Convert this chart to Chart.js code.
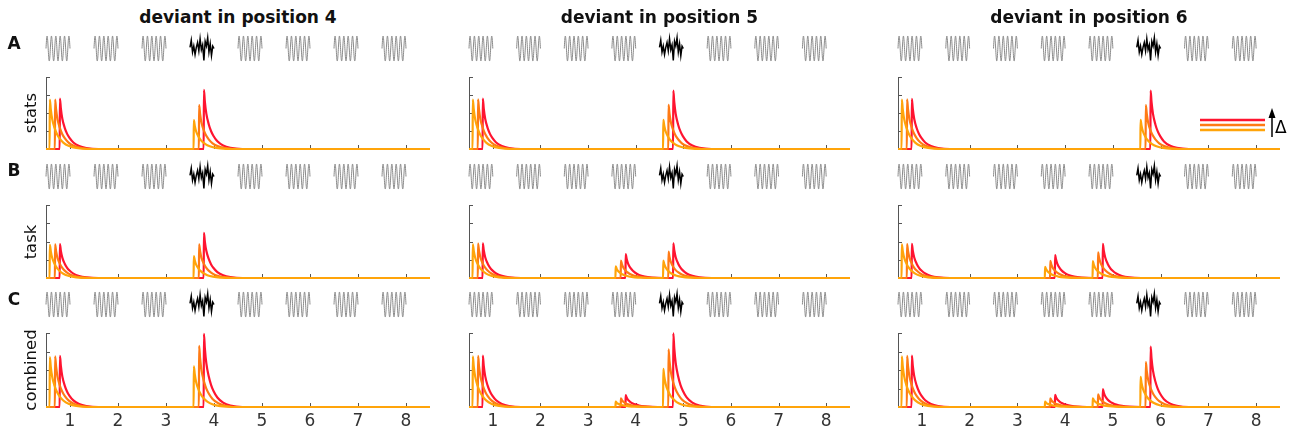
<!DOCTYPE html>
<html>
<head>
<meta charset="utf-8">
<script src="https://cdn.jsdelivr.net/npm/chart.js@4.4.0/dist/chart.umd.min.js"></script>
<style>
  body { margin: 0; background: #fff; font-family: "DejaVu Sans", sans-serif; }
  #fig { position: relative; width: 1297px; height: 433px; overflow: hidden; }
  #fig canvas { position: absolute; }
  .lbl { position: absolute; white-space: nowrap; color: #111; transform: translate(-50%, -50%); }
  .ttl { font-weight: bold; font-size: 17px; }
  .let { font-weight: bold; font-size: 17px; }
  .ylab { font-size: 16.5px; transform: translate(-50%, -50%) rotate(-90deg); }
</style>
</head>
<body>
<div id="fig"></div>
<script>
// tones in the sequence (x ticks) and y ticks
var tones = [1, 2, 3, 4, 5, 6, 7, 8];
var yTicks = [0, 1, 2, 3, 4];
var deviantPos = [4, 5, 6];
var colTitles = ['deviant in position 4', 'deviant in position 5', 'deviant in position 6'];
var rowNames = ['stats', 'task', 'combined'];
var rowLetters = ['A', 'B', 'C'];

// peak latency after tone onset for small / medium / large delta
var latency = [0.08, 0.19, 0.29];
var deltaColors = ['#ffa40a', '#ff7a14', '#ff1430'];

// shape of a response after its peak: time after peak, fraction of peak
var decayT = [0, 0.02, 0.05, 0.1, 0.15, 0.2, 0.28, 0.4, 0.55, 0.8];
var decayF = [1, 0.8, 0.6, 0.42, 0.3, 0.22, 0.13, 0.06, 0.02, 0];

// response peaks: [tone, small delta, medium delta, large delta]
var stats4 = [[1, 2.75, 2.75, 2.8], [4, 1.6, 2.44, 3.28]];
var stats5 = [[1, 2.75, 2.76, 2.8], [5, 1.62, 2.45, 3.25]];
var stats6 = [[1, 2.75, 2.76, 2.78], [6, 1.62, 2.44, 3.25]];
var task4 = [[1, 1.82, 1.84, 1.86], [4, 1.2, 1.84, 2.48]];
var task5 = [[1, 1.85, 1.88, 1.9], [4, 0.64, 0.96, 1.31], [5, 0.95, 1.44, 1.9]];
var task6 = [[1, 1.84, 1.86, 1.87], [4, 0.61, 0.94, 1.26], [5, 0.92, 1.4, 1.87]];
var comb4 = [[1, 2.7, 2.74, 2.76], [4, 2.2, 3.3, 3.95]];
var comb5 = [[1, 2.74, 2.76, 2.78], [4, 0.29, 0.47, 0.64], [5, 2.06, 3.12, 3.98]];
var comb6 = [[1, 2.74, 2.76, 2.78], [4, 0.29, 0.47, 0.66], [5, 0.47, 0.69, 0.97], [6, 1.63, 2.43, 3.27]];
var panels = [[stats4, stats5, stats6], [task4, task5, task6], [comb4, comb5, comb6]];

// jagged deviant tone glyph
var devWave = [0.1, 0.7, -0.3, 0.2, -0.5, 0.1, 0.5, -0.2, 0.8, -0.1, 0.3, -1, 0.6,
  0.2, 0.9, -0.3, 0.4, -0.6, 0.2, 0];

// layout of plot areas (px)
var plotX = [[46, 430], [469, 850], [898, 1280]];
var plotY = [[77, 149], [205, 278], [333, 407]];

Chart.defaults.font.family = '"DejaVu Sans", sans-serif';

function trace(peaks, k) {
  var pts = [{x: 0.5, y: 0}];
  peaks.forEach(function (p) {
    var x0 = p[0] - 0.5 + latency[k];
    pts.push({x: x0 - 0.005, y: 0});
    decayT.forEach(function (t, i) {
      pts.push({x: x0 + t, y: p[k + 1] * decayF[i]});
    });
  });
  pts.push({x: 8.5, y: 0});
  return pts;
}

var stimuli = {
  id: 'stimuli',
  afterDraw: function (chart, args, opts) {
    var ctx = chart.ctx, xs = chart.scales.x;
    var mid = chart.chartArea.top - 28.5, amp = 12.5;
    tones.forEach(function (n) {
      var x0 = xs.getPixelForValue(n - 0.5), x1 = xs.getPixelForValue(n);
      ctx.save();
      ctx.beginPath();
      if (n === opts.deviant) {
        devWave.forEach(function (v, i) {
          var x = x0 + (x1 - x0) * i / (devWave.length - 1);
          if (i === 0) ctx.moveTo(x, mid - v * 12); else ctx.lineTo(x, mid - v * 12);
        });
        ctx.strokeStyle = '#000';
        ctx.lineWidth = 1.5;
      } else {
        for (var i = 0; i <= 200; i++) {
          var x = x0 + (x1 - x0) * i / 200;
          var y = mid - amp * Math.sin(2 * Math.PI * 5.5 * i / 200);
          if (i === 0) ctx.moveTo(x, y); else ctx.lineTo(x, y);
        }
        ctx.strokeStyle = '#8a8a8a';
        ctx.lineWidth = 1;
      }
      ctx.stroke();
      ctx.restore();
    });
  }
};

var inTicks = {
  id: 'inTicks',
  beforeDatasetsDraw: function (chart) {
    var ctx = chart.ctx, a = chart.chartArea, xs = chart.scales.x, ys = chart.scales.y;
    ctx.save();
    ctx.strokeStyle = '#555';
    ctx.lineWidth = 1;
    ctx.beginPath();
    ys.ticks.forEach(function (t) {
      var y = Math.round(ys.getPixelForValue(t.value)) + 0.5;
      ctx.moveTo(a.left, y); ctx.lineTo(a.left + 4, y);
    });
    xs.ticks.forEach(function (t) {
      var x = Math.round(xs.getPixelForValue(t.value)) + 0.5;
      ctx.moveTo(x, a.bottom); ctx.lineTo(x, a.bottom - 4);
    });
    ctx.stroke();
    ctx.restore();
  }
};

var deltaKey = {
  id: 'deltaKey',
  afterDraw: function (chart, args, opts) {
    if (!opts.show) return;
    var ctx = chart.ctx, a = chart.chartArea;
    ctx.save();
    ctx.lineWidth = 2.5;
    [2, 1, 0].forEach(function (k, i) {
      var y = a.bottom - 29 + i * 5;
      ctx.strokeStyle = deltaColors[k];
      ctx.beginPath(); ctx.moveTo(a.right - 80, y); ctx.lineTo(a.right - 15, y); ctx.stroke();
    });
    var ax = a.right - 8;
    ctx.strokeStyle = '#000'; ctx.fillStyle = '#000'; ctx.lineWidth = 1.5;
    ctx.beginPath(); ctx.moveTo(ax, a.bottom - 12); ctx.lineTo(ax, a.bottom - 34); ctx.stroke();
    ctx.beginPath(); ctx.moveTo(ax, a.bottom - 41); ctx.lineTo(ax - 3.5, a.bottom - 31); ctx.lineTo(ax + 3.5, a.bottom - 31); ctx.closePath(); ctx.fill();
    ctx.font = '17px "DejaVu Sans"';
    ctx.textBaseline = 'middle';
    ctx.fillText('\u0394', ax + 3, a.bottom - 20);
    ctx.restore();
  }
};

var fig = document.getElementById('fig');

function addLabel(text, cls, x, y) {
  var d = document.createElement('div');
  d.className = 'lbl ' + cls;
  d.textContent = text;
  d.style.left = x + 'px';
  d.style.top = y + 'px';
  fig.appendChild(d);
}

rowNames.forEach(function (name, r) {
  for (var c = 0; c < 3; c++) {
    var L = plotX[c][0], R = plotX[c][1], T = plotY[r][0], B = plotY[r][1];
    var padL = 45, padT = 50, padR = 17, padB = r === 2 ? 28 : 6;
    var w = R - L + padL + padR, h = B - T + padT + padB;
    var cv = document.createElement('canvas');
    cv.width = w; cv.height = h;
    cv.style.width = w + 'px'; cv.style.height = h + 'px';
    cv.style.left = (L - padL) + 'px'; cv.style.top = (T - padT) + 'px';
    fig.appendChild(cv);
    var peaks = panels[r][c];

    new Chart(cv, {
      type: 'line',
      data: {
        datasets: [0, 1, 2].map(function (k) {
          return {
            data: trace(peaks, k),
            borderColor: deltaColors[k],
            borderWidth: 2.2,
            pointRadius: 0,
            cubicInterpolationMode: 'monotone',
            clip: 4,
            fill: false
          };
        })
      },
      options: {
        responsive: false,
        animation: false,
        events: [],
        layout: { padding: { top: padT, right: padR, left: 0, bottom: 0 } },
        plugins: {
          legend: { display: false },
          tooltip: { enabled: false },
          stimuli: { deviant: deviantPos[c] },
          deltaKey: { show: r === 0 && c === 2 }
        },
        scales: {
          x: {
            type: 'linear', min: 0.5, max: 8.5,
            afterBuildTicks: function (s) { s.ticks = tones.map(function (v) { return {value: v}; }); },
            afterFit: (function (hb) { return function (s) { s.height = hb; }; })(padB),
            grid: { display: false, drawTicks: false },
            border: { display: false },
            ticks: { display: r === 2, color: '#333', font: { size: 17 }, padding: 4, maxRotation: 0, autoSkip: false }
          },
          y: {
            min: 0, max: 4,
            afterBuildTicks: function (s) { s.ticks = yTicks.map(function (v) { return {value: v}; }); },
            afterFit: function (s) { s.width = 45; },
            grid: { display: false, drawTicks: false },
            border: { display: true, color: '#555', width: 1 },
            ticks: { display: false }
          }
        }
      },
      plugins: [stimuli, inTicks, deltaKey]
    });
  }
  addLabel(rowLetters[r], 'let', 14, [43, 170, 299][r]);
  addLabel(name, 'ylab', 30, (plotY[r][0] + plotY[r][1]) / 2);
});

colTitles.forEach(function (t, c) {
  addLabel(t, 'ttl', (plotX[c][0] + plotX[c][1]) / 2, 17);
});
</script>
</body>
</html>
